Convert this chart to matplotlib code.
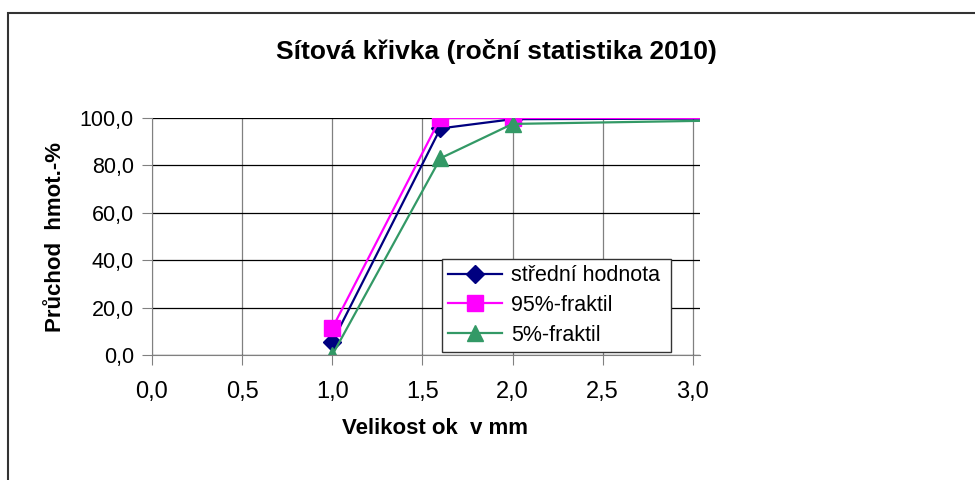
import matplotlib
matplotlib.use("Agg")
import matplotlib.pyplot as plt
from matplotlib.patches import Rectangle
from matplotlib.ticker import FuncFormatter

plt.rcParams['font.family'] = ['Liberation Sans', 'DejaVu Sans']

# sieve sizes (mm) and passing (%)
sizes = [1.0, 1.6, 2.0, 4.0]
mean_vals = [5.4, 95.6, 99.5, 100.0]
q95_vals = [11.3, 100.0, 100.0, 100.0]
q05_vals = [0.0, 83.0, 97.5, 100.0]
labels = ['střední hodnota', '95%-fraktil', '5%-fraktil']

W, H = 975, 480
fig = plt.figure(figsize=(W / 100, H / 100), dpi=100)

# outer chart border (Excel chart area)
fig.patches.append(Rectangle((8 / W, -0.1), 1.1, (H - 13) / H + 0.1,
                             transform=fig.transFigure, fill=False,
                             edgecolor='#333333', linewidth=1.5))

ax = fig.add_axes([152 / W, (H - 355) / H, (700 - 152) / W, (355 - 118) / H])

ax.plot(sizes, mean_vals, color='#000080', marker='D', markersize=9, lw=1.6,
        label=labels[0], markevery=[0, 1, 2])
ax.plot(sizes, q95_vals, color='#FF00FF', marker='s', markersize=11, lw=1.6,
        label=labels[1], markevery=[0, 1, 2])
ax.plot(sizes, q05_vals, color='#339966', marker='^', markersize=11, lw=1.6,
        label=labels[2], markevery=[0, 1, 2])

ax.set_xlim(0, 3.04)
ax.set_ylim(0, 100)
ax.set_xticks([0, 0.5, 1.0, 1.5, 2.0, 2.5, 3.0])
ax.set_yticks([0, 20, 40, 60, 80, 100])
fmt = FuncFormatter(lambda v, p: ('%.1f' % v).replace('.', ','))
ax.xaxis.set_major_formatter(fmt)
ax.yaxis.set_major_formatter(fmt)

ax.grid(axis='y', color='black', lw=0.9)
ax.grid(axis='x', color='#808080', lw=0.9)
ax.set_axisbelow(True)
for s in ['top', 'right']:
    ax.spines[s].set_visible(False)
for s in ['left', 'bottom']:
    ax.spines[s].set_color('#808080')
ax.tick_params(axis='x', direction='out', length=7, color='#808080',
               labelsize=17, pad=12)
ax.tick_params(axis='y', direction='out', length=7, color='#808080',
               labelsize=15.5, pad=6)

ax.set_xlabel('Velikost ok  v mm', fontsize=16, fontweight='bold')
ax.xaxis.set_label_coords((435 - 152) / 548, (355 - 428) / 237)
ax.xaxis.label.set_va('center')
ax.set_ylabel('Průchod  hmot.-%', fontsize=16, fontweight='bold', labelpad=10)

fig.text(496 / W, 1 - 52 / H, 'Sítová křivka (roční statistika 2010)',
         ha='center', va='center', fontsize=19, fontweight='bold')

leg = ax.legend(loc='lower left', bbox_to_anchor=((442 - 152) / 548, (355 - 352) / 237,
                                                  (671 - 442) / 548, (352 - 262) / 237),
                mode='expand', fontsize=15.5, frameon=True, fancybox=False,
                edgecolor='#333333', framealpha=1, borderaxespad=0,
                handlelength=2.5, handletextpad=0.4, labelspacing=0.4,
                borderpad=0.3)
leg.get_frame().set_linewidth(1.0)

fig.savefig('out.png', dpi=100)
